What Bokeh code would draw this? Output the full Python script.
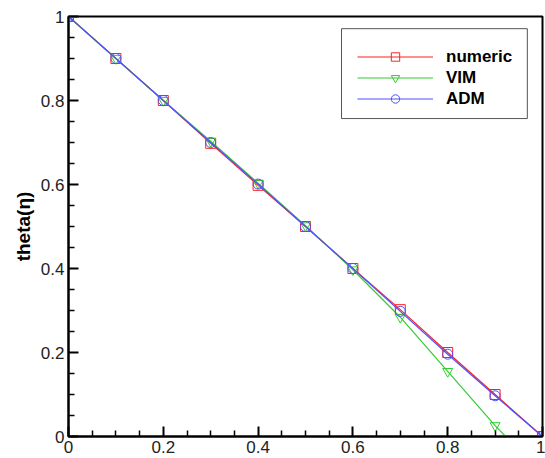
from bokeh.plotting import figure
from bokeh.embed import file_html
from bokeh.resources import INLINE
from bokeh.models import FixedTicker, CustomJSTickFormatter, Range1d, Legend, BoxAnnotation

eta = [0.0, 0.1, 0.2, 0.3, 0.4, 0.5, 0.6, 0.7, 0.8, 0.9, 1.0]
numeric = [1.0, 0.9, 0.8, 0.698, 0.598, 0.5, 0.4, 0.302, 0.2, 0.1, 0.0]
vim = [1.0, 0.9, 0.8, 0.703, 0.603, 0.502, 0.397, 0.284, 0.155, 0.026, -0.09]
adm = [1.0, 0.9, 0.8, 0.7, 0.601, 0.5, 0.4, 0.298, 0.196, 0.097, 0.0]
x_ticks = [0, 0.2, 0.4, 0.6, 0.8, 1]
y_ticks = [0, 0.2, 0.4, 0.6, 0.8, 1]
x_minor = [0.05, 0.1, 0.15, 0.25, 0.3, 0.35, 0.45, 0.5, 0.55, 0.65, 0.7, 0.75, 0.85, 0.9, 0.95]
y_minor = x_minor

p = figure(width=545, height=458, output_backend="svg", toolbar_location=None,
           x_range=Range1d(0, 1), y_range=Range1d(0, 1),
           min_border_left=68, min_border_right=3, min_border_top=16, min_border_bottom=22)
p.grid.visible = False
p.outline_line_color = "black"
p.outline_line_width = 2
p.outline_line_alpha = 1
p.background_fill_alpha = 0

fmt = CustomJSTickFormatter(code="return String(Math.round(tick*10)/10);")
for ax, ticks in ((p.xaxis[0], x_ticks), (p.yaxis[0], y_ticks)):
    ax.ticker = FixedTicker(ticks=ticks, minor_ticks=x_minor)
    ax.formatter = fmt
    ax.axis_line_width = 2
    ax.axis_line_color = "black"
    ax.major_tick_in = 10
    ax.major_tick_out = 0
    ax.minor_tick_in = 6
    ax.minor_tick_out = 0
    ax.major_tick_line_width = 2
    ax.minor_tick_line_width = 1.5
    ax.major_tick_line_color = "black"
    ax.minor_tick_line_color = "black"
    ax.major_label_text_font = "Liberation Sans"
    ax.major_label_text_font_size = "17px"
    ax.major_label_text_color = "#222222"
    ax.major_label_standoff = 4

p.yaxis[0].axis_label = "theta(η)"
p.yaxis[0].axis_label_text_font = "Liberation Sans"
p.yaxis[0].axis_label_text_font_style = "bold"
p.yaxis[0].axis_label_text_font_size = "19px"
p.yaxis[0].axis_label_text_color = "black"
p.yaxis[0].axis_label_standoff = 4

red = "#ff2020"
green = "#33cc33"
blue = "#5050ff"

r1 = p.line(eta, numeric, line_color=red, line_width=1.2)
s1 = p.scatter(eta, numeric, marker="square", size=10, line_color=red, fill_color=None, line_width=1)
r2 = p.line(eta, vim, line_color=green, line_width=1.2)
s2 = p.scatter(eta, vim, marker="inverted_triangle", size=10, line_color=green, fill_color=None, line_width=1)
r3 = p.line(eta, adm, line_color=blue, line_width=1.2)
s3 = p.scatter(eta, adm, marker="circle", size=10, line_color=blue, fill_color=None, line_width=1)

legend = Legend(items=[("numeric", [r1, s1]), ("VIM", [r2, s2]), ("ADM", [r3, s3])],
                location=(289, 327))
legend.label_text_font = "Liberation Sans"
legend.label_text_font_style = "bold"
legend.label_text_font_size = "17px"
legend.label_text_color = "black"
legend.glyph_width = 76
legend.glyph_height = 21
legend.label_height = 21
legend.label_standoff = 13
legend.spacing = 0
legend.padding = 15
legend.margin = 0
legend.border_line_color = None
legend.background_fill_alpha = 0
p.add_layout(legend, "center")

# frame drawn around the legend
legend_box = BoxAnnotation(left=0.576, right=0.968, bottom=0.757, top=0.971,
                           fill_color="white", fill_alpha=1, line_color="#555555",
                           line_width=1, line_alpha=1, level="glyph")
p.add_layout(legend_box)

open("out.html", "w").write(file_html(p, INLINE))
